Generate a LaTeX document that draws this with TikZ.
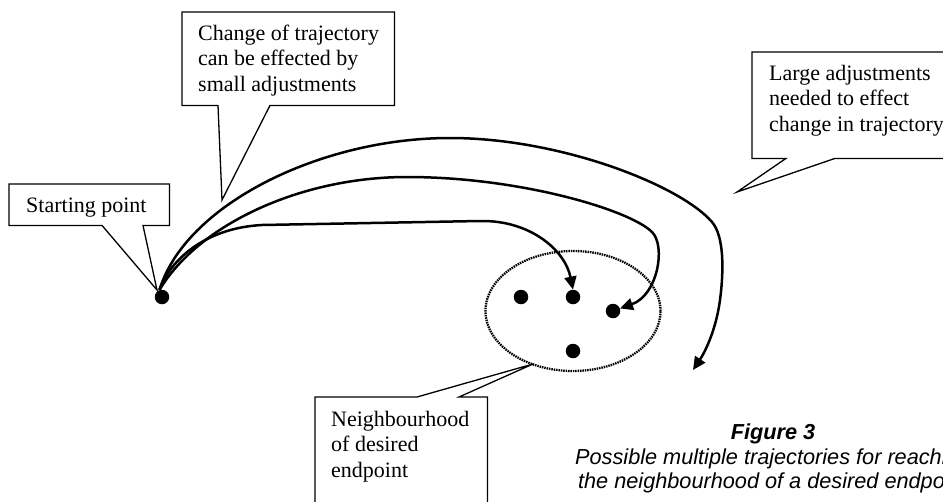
\documentclass[tikz,border=0pt]{standalone}
\usepackage{fontspec}
\setmainfont{Liberation Serif}
\setsansfont{Liberation Sans}
\usetikzlibrary{arrows.meta, calc, shapes.geometric}

\begin{document}
\begin{tikzpicture}[x=1pt, y=-1pt, >={Triangle[length=13pt, width=12pt]},
  note/.style={inner sep=0pt, anchor=north west, align=left, font=\fontsize{22}{25.3}\selectfont},
  frame/.style={inner sep=0pt, anchor=north west},
  callout/.style={line width=1.3pt, line join=miter},
  route/.style={line width=2.5pt, ->},
  dot/.style={circle, fill, inner sep=0pt, minimum size=14.5pt}]
\useasboundingbox (0,0) rectangle (943,501);
\clip (0,0) rectangle (943,501);

\node[dot] (s) at (162,297) {};
\node[dot] (e1) at (521,297) {};
\node[dot] (e2) at (573,297) {};
\node[dot] (e3) at (613,311) {};
\node[dot] (e4) at (573,351) {};
\node[draw, ellipse, minimum width=175pt, minimum height=120pt, line width=2.3pt, dash pattern=on 1.5pt off 0.9pt] (hood) at (573,311) {};

\node[frame, minimum width=160pt, minimum height=41pt] (spbox) at (9,184) {};
\node[note] (sptext) at (26,197.7) {Starting point};
\node[frame, minimum width=212pt, minimum height=93pt] (chbox) at (182,12) {};
\node[note] (chtext) at (198,25) {Change of trajectory\\can be effected by\\small adjustments};
\node[frame, minimum width=208pt, minimum height=106pt] (lgbox) at (752,52) {};
\node[note] (lgtext) at (769,65) {Large adjustments\\needed to effect\\change in trajectory};
\node[frame, minimum width=172pt, minimum height=123pt] (nbbox) at (315,397) {};
\node[note] (nbtext) at (331,411) {Neighbourhood\\of desired\\endpoint};

\coordinate (sptip) at (157,290);
\coordinate (chtip) at (222,200);
\coordinate (lgtip) at (737,192);
\coordinate (nbtip) at (533,364);
\coordinate (c3end) at (693,370);

\draw[callout] (spbox.south west) -- (spbox.north west) -- (spbox.north east) -- (spbox.south east) -- ($(spbox.south west)+(134,0)$) -- (sptip) -- ($(spbox.south west)+(93,0)$) -- cycle;
\draw[callout] (chbox.south west) -- (chbox.north west) -- (chbox.north east) -- (chbox.south east) -- ($(chbox.south west)+(88,0)$) -- (chtip) -- ($(chbox.south west)+(36,0)$) -- cycle;
\draw[callout] (lgbox.south west) -- (lgbox.north west) -- (lgbox.north east) -- (lgbox.south east) -- ($(lgbox.south west)+(83,0)$) -- (lgtip) -- ($(lgbox.south west)+(34,0)$) -- cycle;
\draw[callout] (nbbox.north west) -- ($(nbbox.north west)+(102,0)$) -- (nbtip) -- ($(nbbox.north west)+(144,0)$) -- (nbbox.north east) -- (nbbox.south east) -- (nbbox.south west) -- cycle;

\draw[route] (s.110) .. controls (170,260) and (205,228) .. (262,225) -- (480,221) .. controls (530,220) and (565,250) .. (e2.north);
\draw[route] (s.110) .. controls (198,225) and (300,177) .. (407,177) .. controls (520,177) and (630,210) .. (652,232) .. controls (666,246) and (658,295) .. (e3.20);
\draw[route] (s.110) .. controls (185,205) and (320,138) .. (450,138) .. controls (560,138) and (680,185) .. (712,222) .. controls (724,236) and (724,270) .. (720,300) .. controls (716,330) and (705,352) .. (c3end);

\node[font=\sffamily\itshape\fontsize{21.7}{24.5}\selectfont, align=center, anchor=north, inner sep=0pt] (caption) at (773,424) {{\bfseries Figure 3}\\Possible multiple trajectories for reaching\\the neighbourhood of a desired endpoint};
\end{tikzpicture}
\end{document}
